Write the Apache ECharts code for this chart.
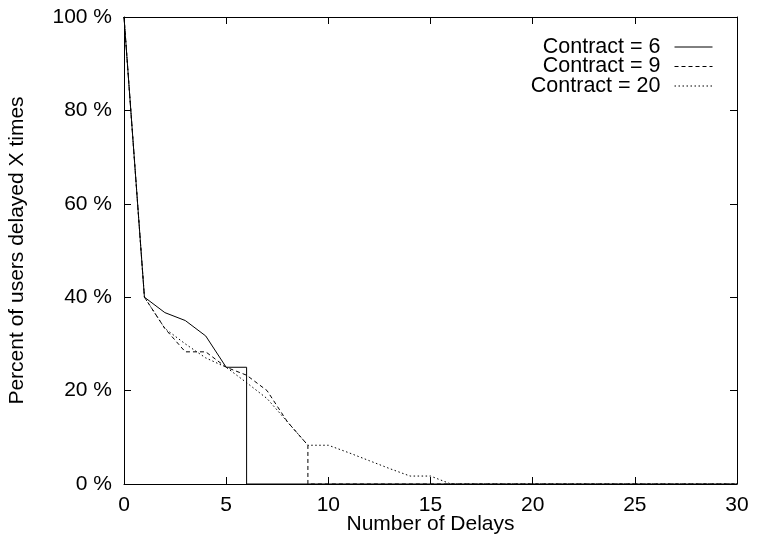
<!DOCTYPE html>
<html>
<head>
<meta charset="utf-8">
<script src="https://cdn.jsdelivr.net/npm/echarts@6/dist/echarts.min.js"></script>
<style>
html,body{margin:0;padding:0;background:#fff;}
#chart{width:762px;height:540px;}
</style>
</head>
<body>
<div id="chart"></div>
<script>
// Data
const seriesNames = ['Contract = 6', 'Contract = 9', 'Contract = 20'];
const c6x  = [0, 1, 2, 3, 4, 5, 6, 6, 30];
const c6y  = [100, 40, 36.7, 35, 31.7, 25, 25, 0, 0];
const c9x  = [0, 1, 2, 3, 4, 5, 6, 7, 8, 9, 9, 30];
const c9y  = [100, 40, 33.3, 28.3, 28.3, 25, 23.3, 20, 13.3, 8.3, 0, 0];
const c20x = [0, 1, 2, 3, 4, 5, 6, 7, 8, 9, 10, 11, 12, 13, 14, 15, 16, 30];
const c20y = [100, 40, 33.3, 30, 27, 25, 21.7, 18.3, 13.3, 8.3, 8.3, 6.7, 5, 3.3, 1.7, 1.7, 0, 0];
const xTicks = [0, 5, 10, 15, 20, 25, 30];
const yTicks = [0, 20, 40, 60, 80, 100];

const FONT = '"Liberation Sans", Arial, sans-serif';
const zip = (xs, ys) => xs.map((x, i) => [x, ys[i]]);
const dashes = ['solid', [4, 3], [1.5, 2.5]];
const allData = [zip(c6x, c6y), zip(c9x, c9y), zip(c20x, c20y)];

const chart = echarts.init(document.getElementById('chart'), null, {renderer: 'canvas'});

function axisCommon() {
  return {
    axisLine: {show: true, onZero: false, lineStyle: {color: '#000', width: 1}},
    axisTick: {show: true, inside: true, length: 7, lineStyle: {color: '#000', width: 1}},
    splitLine: {show: false}
  };
}

const legendTops = [36, 55.5, 75];
const legends = seriesNames.map((n, i) => ({
  data: [n],
  right: 49,
  top: legendTops[i],
  orient: 'vertical',
  align: 'right',
  padding: 0,
  itemWidth: 38,
  itemHeight: 14,
  selectedMode: false,
  itemStyle: {opacity: 0},
  lineStyle: {width: 1, color: '#000'},
  textStyle: {fontFamily: FONT, fontSize: 21.5, color: '#000', padding: [0, 9, 0, 0]}
}));

chart.setOption({
  animation: false,
  backgroundColor: '#fff',
  grid: {left: 124, right: 25, top: 17, bottom: 56, outerBoundsMode: 'none', containLabel: false},
  legend: legends,
  xAxis: [
    Object.assign({
      type: 'value', min: xTicks[0], max: xTicks[xTicks.length - 1], interval: 5,
      position: 'bottom',
      name: 'Number of Delays', nameLocation: 'middle', nameGap: 30, nameMoveOverlap: false,
      nameTextStyle: {fontFamily: FONT, fontSize: 21, color: '#000'},
      axisLabel: {fontFamily: FONT, fontSize: 21, color: '#000', margin: 11}
    }, axisCommon()),
    Object.assign({
      type: 'value', min: xTicks[0], max: xTicks[xTicks.length - 1], interval: 5,
      position: 'top', axisLabel: {show: false}
    }, axisCommon())
  ],
  yAxis: [
    Object.assign({
      type: 'value', min: yTicks[0], max: yTicks[yTicks.length - 1], interval: 20,
      position: 'left',
      name: 'Percent of users delayed X times', nameLocation: 'middle', nameGap: 96,
      nameTextStyle: {fontFamily: FONT, fontSize: 21, color: '#000'},
      axisLabel: {fontFamily: FONT, fontSize: 21, color: '#000', margin: 12, formatter: '{value} %'}
    }, axisCommon()),
    Object.assign({
      type: 'value', min: yTicks[0], max: yTicks[yTicks.length - 1], interval: 20,
      position: 'right', axisLabel: {show: false}
    }, axisCommon())
  ],
  series: seriesNames.map((n, i) => ({
    name: n,
    type: 'line',
    data: allData[i],
    symbol: 'none',
    showSymbol: false,
    color: '#000',
    lineStyle: {color: '#000', width: 1, type: dashes[i]},
    z: 3 - i
  }))
});
</script>
</body>
</html>
